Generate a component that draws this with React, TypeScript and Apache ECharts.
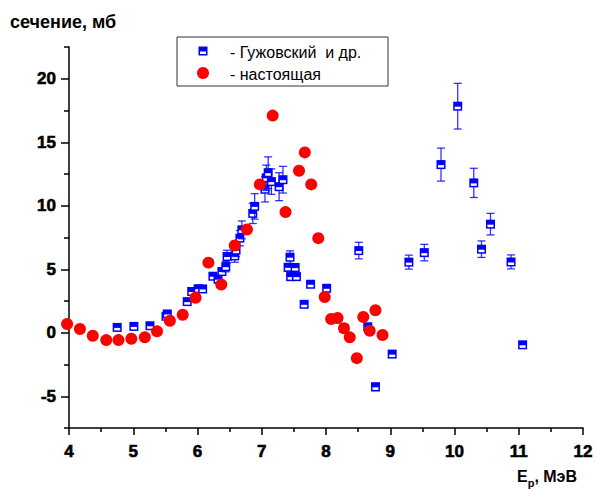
import React, { useEffect, useRef } from "react";
import * as echarts from "echarts";

// Гужовский и др. (with error bars)
const blueE = [4.75, 5.01, 5.26, 5.51, 5.53, 5.84, 5.91, 6.01, 6.08, 6.24, 6.32, 6.38, 6.44, 6.46, 6.58, 6.6, 6.66, 6.69, 6.86, 6.89, 7.05, 7.07, 7.1, 7.15, 7.27, 7.33,
  7.41, 7.44, 7.45, 7.52, 7.54, 7.66, 7.76, 8.01, 8.28, 8.51, 8.65, 8.77, 9.03, 9.29, 9.53, 9.79, 10.05, 10.3, 10.42, 10.56, 10.88, 11.06];
const blueV = [0.42, 0.5, 0.55, 1.3, 1.48, 2.45, 3.25, 3.47, 3.45, 4.45, 4.22, 4.82, 5.2, 6.0, 6.05, 6.5, 7.45, 8.1, 9.4, 9.95, 11.3, 12.2, 12.6, 11.9, 11.5, 12.05,
  5.15, 5.95, 4.42, 5.13, 4.42, 2.24, 3.82, 3.5, 0.35, 6.47, 0.47, -4.26, -1.68, 5.56, 6.31, 13.24, 17.84, 11.8, 6.58, 8.55, 5.58, -0.95];
const blueErr = [0, 0, 0, 0, 0, 0.15, 0.2, 0.2, 0.2, 0.25, 0.3, 0.3, 0.4, 0.5, 0.5, 0.5, 0.6, 0.7, 0.8, 1.0, 1.0, 1.0, 1.25, 1.0, 1.1, 1.05,
  0.3, 0.5, 0.3, 0.3, 0.3, 0, 0.2, 0.2, 0, 0.65, 0, 0.3, 0, 0.55, 0.65, 1.3, 1.8, 1.15, 0.65, 0.85, 0.55, 0];

// настоящая
const redE = [3.97, 4.17, 4.37, 4.58, 4.77, 4.97, 5.18, 5.37, 5.57, 5.77, 5.97, 6.17, 6.37, 6.58, 6.77, 6.97, 7.17, 7.37, 7.58, 7.67, 7.77, 7.88,
  7.98, 8.08, 8.18, 8.28, 8.37, 8.48, 8.58, 8.68, 8.77, 8.88];
const redV = [0.69, 0.29, -0.24, -0.58, -0.58, -0.47, -0.36, 0.11, 0.95, 1.42, 2.76, 5.52, 3.79, 6.87, 8.13, 11.68, 17.1, 9.5, 12.76, 14.2, 11.68, 7.45,
  2.82, 1.08, 1.16, 0.35, -0.36, -2.0, 1.24, 0.16, 1.77, -0.18];

const yMajor = [-5, 0, 5, 10, 15, 20];
const yMinor = [-7.5, -2.5, 2.5, 7.5, 12.5, 17.5, 22.5];

const legendBlue = "- Гужовский  и др.";
const legendRed = "- настоящая";
const yTitle = "сечение, мб";

const FONT = "Arial";
const BLUE = "#0000ff";
const BAR = "rgba(0,0,255,0.8)";

function squareMarker(cx: number, cy: number) {
  return [
    { type: "rect", shape: { x: cx - 4.5, y: cy - 4.5, width: 9, height: 9 }, style: { fill: BLUE } },
    { type: "rect", shape: { x: cx - 3, y: cy + 0.5, width: 6, height: 2.5 }, style: { fill: "#ffffff" } },
  ];
}

export default function App() {
  const ref = useRef<HTMLDivElement>(null);
  useEffect(() => {
    if (!ref.current) return;
    const chart = echarts.init(ref.current, null, { renderer: "svg" });
    const blueData = blueE.map((e, i) => [e, blueV[i], blueErr[i]]);
    const redData = redE.map((e, i) => [e, redV[i]]);
    const axisLine = { show: true, onZero: false, lineStyle: { color: "#000", width: 1.5 } };
    const lbl = {
      color: "#000",
      fontFamily: FONT,
      fontSize: 17,
      fontWeight: "bold",
      textBorderColor: "#000",
      textBorderWidth: 0.6,
    };
    chart.setOption({
      animation: false,
      backgroundColor: "#ffffff",
      grid: { left: 69, right: 13, top: 47, bottom: 63 },
      xAxis: {
        type: "value",
        min: 4,
        max: 12,
        interval: 1,
        axisLine,
        axisTick: { show: true, length: 7, lineStyle: { color: "#000", width: 1.5 } },
        minorTick: { show: true, splitNumber: 2, length: 4, lineStyle: { color: "#000", width: 1.5 } },
        axisLabel: { ...lbl, margin: 15 },
        splitLine: { show: false },
      },
      yAxis: [
        {
          type: "value",
          min: -7.5,
          max: 22.5,
          interval: 2.5,
          axisLine,
          axisTick: { show: true, length: 8, customValues: yMajor, lineStyle: { color: "#000", width: 1.5 } },
          axisLabel: { ...lbl, margin: 13, customValues: yMajor },
          splitLine: { show: false },
        },
        {
          type: "value",
          min: -7.5,
          max: 22.5,
          interval: 2.5,
          position: "left",
          axisLine: { show: false },
          axisTick: { show: true, length: 5, customValues: yMinor, lineStyle: { color: "#000", width: 1.5 } },
          axisLabel: { show: false },
          splitLine: { show: false },
        },
      ],
      series: [
        {
          type: "custom",
          name: "blue",
          xAxisIndex: 0,
          yAxisIndex: 0,
          clip: false,
          encode: { x: 0, y: 1 },
          data: blueData,
          z: 2,
          renderItem: (params: any, api: any) => {
            const x = api.value(0);
            const y = api.value(1);
            const err = api.value(2);
            const p = api.coord([x, y]);
            const children: any[] = [];
            if (err > 0) {
              const top = api.coord([x, y + err]);
              const bot = api.coord([x, y - err]);
              const st = { stroke: BAR, lineWidth: 1.3 };
              children.push({ type: "line", shape: { x1: p[0], y1: top[1], x2: p[0], y2: bot[1] }, style: st });
              children.push({ type: "line", shape: { x1: p[0] - 4, y1: top[1], x2: p[0] + 4, y2: top[1] }, style: st });
              children.push({ type: "line", shape: { x1: p[0] - 4, y1: bot[1], x2: p[0] + 4, y2: bot[1] }, style: st });
            }
            children.push(...squareMarker(p[0], p[1]));
            return { type: "group", children };
          },
        },
        {
          type: "scatter",
          name: "red",
          xAxisIndex: 0,
          yAxisIndex: 0,
          clip: false,
          data: redData,
          symbol: "circle",
          symbolSize: 12,
          itemStyle: { color: "#ff0000", opacity: 1 },
          z: 3,
        },
      ],
      graphic: [
        {
          type: "text",
          x: 10,
          y: 13,
          style: { text: yTitle, fontFamily: FONT, fontSize: 18, fontWeight: "bold", fill: "#000" },
        },
        { type: "rect", shape: { x: 177, y: 37, width: 211, height: 49 }, style: { fill: "#fff", stroke: "#333", lineWidth: 1 } },
        ...squareMarker(203, 51),
        { type: "circle", shape: { cx: 203, cy: 73, r: 6 }, style: { fill: "#ff0000" } },
        { type: "text", x: 230, y: 52, style: { text: legendBlue, fontFamily: FONT, fontSize: 16, fill: "#000", verticalAlign: "middle" } },
        { type: "text", x: 230, y: 74, style: { text: legendRed, fontFamily: FONT, fontSize: 16, fill: "#000", verticalAlign: "middle" } },
        {
          type: "text",
          right: 19,
          top: 468,
          style: {
            text: "{e|E}{s|p}{e|, МэВ}",
            rich: {
              e: { fontFamily: FONT, fontSize: 16, fontWeight: "bold", fill: "#000", verticalAlign: "bottom" },
              s: { fontFamily: FONT, fontSize: 11, fontWeight: "bold", fill: "#000", verticalAlign: "bottom", padding: [0, 0, -4, 0] },
            },
          },
        },
      ],
    });
    return () => chart.dispose();
  }, []);
  return <div ref={ref} style={{ position: "fixed", left: 0, top: 0, width: 596, height: 491, background: "#fff" }} />;
}
